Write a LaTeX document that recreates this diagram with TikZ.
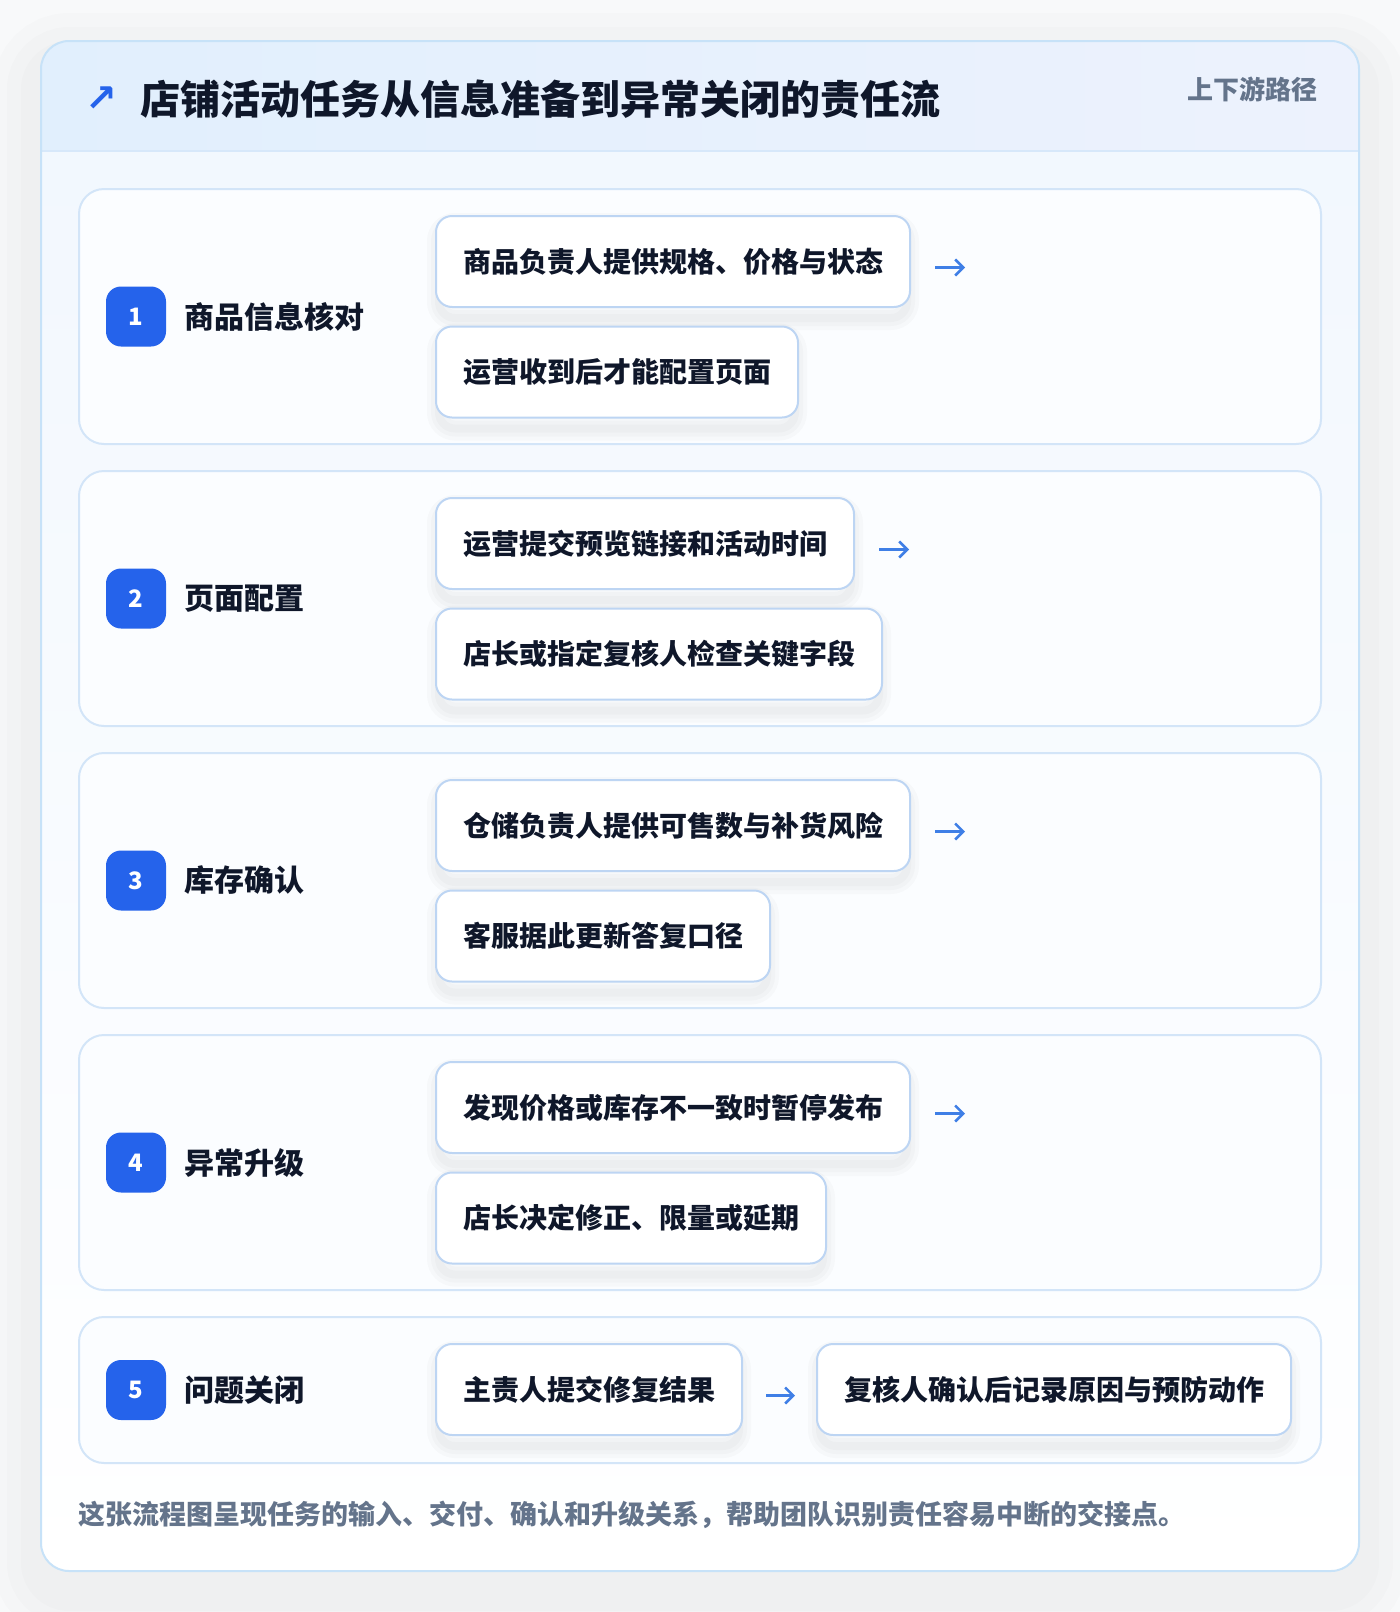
\documentclass[tikz,border=0pt]{standalone}
\usepackage{fontspec}
\setmainfont{Noto Sans CJK SC}
\newfontfamily\symfont{DejaVu Sans}
\usetikzlibrary{positioning,arrows.meta}
\pgfdeclarelayer{back}
\pgfdeclarelayer{mid}
\pgfsetlayers{back,mid,main}

\definecolor{pagebg}{HTML}{F8F9FA}
\definecolor{cardline}{HTML}{C7E2F8}
\definecolor{headl}{HTML}{E1EFFD}
\definecolor{headr}{HTML}{EDF2FD}
\definecolor{headline}{HTML}{D7E8FA}
\definecolor{bodytop}{HTML}{F1F7FE}
\definecolor{rowline}{HTML}{D3E5F8}
\definecolor{rowfill}{HTML}{FBFDFF}
\definecolor{boxline}{HTML}{BDD5F3}
\definecolor{badgeblue}{HTML}{2563EB}
\definecolor{flowblue}{HTML}{3F7FE6}
\definecolor{ink}{HTML}{0F172A}
\definecolor{muted}{HTML}{64748B}

\newcommand\setfs[1]{\fontsize{#1}{#1}\selectfont\bfseries}
% soft shadow under a step box
\newcommand\boxshadow[1]{%
\begin{pgfonlayer}{mid}
\foreach \w in {12,8,4}
  \draw[black, opacity=0.018, line width=\w pt, rounded corners=8pt]
    ([yshift=-5pt,xshift=2pt]#1.north west) rectangle ([yshift=-5pt,xshift=-2pt]#1.south east);
\end{pgfonlayer}}

\begin{document}
\begin{tikzpicture}[x=0.5pt,y=-0.5pt,
  rowcard/.style={draw=rowline, line width=1pt, fill=rowfill, rounded corners=12.5pt},
  badge/.style={fill=badgeblue, rounded corners=7.5pt, minimum size=30pt, inner sep=0pt,
    text=white, font=\setfs{12pt}},
  steplabel/.style={inner sep=0pt, text=ink, font=\setfs{15pt}},
  stepbox/.style={draw=boxline, line width=1pt, fill=white, rounded corners=8pt,
    inner xsep=13.5pt, inner ysep=0pt, minimum height=45.5pt, anchor=west,
    text=ink, font=\setfs{14pt}},
  flow/.style={draw=flowblue, line width=1.3pt, -{Straight Barb[length=4pt,width=8pt]}}]
\useasboundingbox (0,0) rectangle (1400,1612);

\begin{pgfonlayer}{back}
\fill[pagebg] (0,0) rectangle (1400,1612);
% card shadow
\foreach \w in {48,34,20}
  \draw[black, opacity=0.012, line width=\w pt, rounded corners=14pt] (41,61) rectangle (1359,1591);
\shade[top color=bodytop, bottom color=white, rounded corners=14pt] (41,41) rectangle (1359,1571);
\begin{scope}
\clip[rounded corners=14pt] (41,41) rectangle (1359,1571);
\shade[left color=headl, right color=headr] (41,41) rectangle (1359,151);
\end{scope}
\draw[headline, line width=1pt] (41,151) -- (1359,151);
\draw[cardline, line width=1pt, rounded corners=14pt] (41,41) rectangle (1359,1571);

% step rows
\draw[rowcard] (79,189) rectangle (1321,444);
\draw[rowcard] (79,471) rectangle (1321,726);
\draw[rowcard] (79,753) rectangle (1321,1008);
\draw[rowcard] (79,1035) rectangle (1321,1290);
\draw[rowcard] (79,1317) rectangle (1321,1463);
\end{pgfonlayer}

% header
\node[text=badgeblue, inner sep=0pt, font=\symfont\setfs{19pt}] (icon) at (101,99) {↗};
\node[anchor=west, inner sep=0pt, text=ink, font=\setfs{20pt}] (title) at (140,99)
  {店铺活动任务从信息准备到异常关闭的责任流};
\node[anchor=east, inner sep=0pt, text=muted, font=\setfs{13pt}] (route) at (1318,89) {上下游路径};

% row 1
\node[badge] (n1) at (136,316.5) {1};
\node[steplabel, right=9pt of n1] (l1) {商品信息核对};
\node[stepbox] (s11) at (435,261.5) {商品负责人提供规格、价格与状态};
\node[stepbox] (s12) at (435,372) {运营收到后才能配置页面};
\coordinate[right=27pt of s11.east, yshift=-3pt] (t1);
\draw[flow] ([xshift=12pt,yshift=-3pt]s11.east) -- (t1);

% row 2
\node[badge] (n2) at (136,598.5) {2};
\node[steplabel, right=9pt of n2] (l2) {页面配置};
\node[stepbox] (s21) at (435,543.5) {运营提交预览链接和活动时间};
\node[stepbox] (s22) at (435,654) {店长或指定复核人检查关键字段};
\coordinate[right=27pt of s21.east, yshift=-3pt] (t2);
\draw[flow] ([xshift=12pt,yshift=-3pt]s21.east) -- (t2);

% row 3
\node[badge] (n3) at (136,880.5) {3};
\node[steplabel, right=9pt of n3] (l3) {库存确认};
\node[stepbox] (s31) at (435,825.5) {仓储负责人提供可售数与补货风险};
\node[stepbox] (s32) at (435,936) {客服据此更新答复口径};
\coordinate[right=27pt of s31.east, yshift=-3pt] (t3);
\draw[flow] ([xshift=12pt,yshift=-3pt]s31.east) -- (t3);

% row 4
\node[badge] (n4) at (136,1162.5) {4};
\node[steplabel, right=9pt of n4] (l4) {异常升级};
\node[stepbox] (s41) at (435,1107.5) {发现价格或库存不一致时暂停发布};
\node[stepbox] (s42) at (435,1218) {店长决定修正、限量或延期};
\coordinate[right=27pt of s41.east, yshift=-3pt] (t4);
\draw[flow] ([xshift=12pt,yshift=-3pt]s41.east) -- (t4);

% row 5
\node[badge] (n5) at (136,1390) {5};
\node[steplabel, right=9pt of n5] (l5) {问题关闭};
\node[stepbox] (s51) at (435,1389.5) {主责人提交修复结果};
\node[stepbox, right=36.5pt of s51.east] (s52) {复核人确认后记录原因与预防动作};
\draw[flow] ([xshift=11.5pt,yshift=-3pt]s51.east) -- ([xshift=-10.5pt,yshift=-3pt]s52.west);

\boxshadow{s11}\boxshadow{s12}\boxshadow{s21}\boxshadow{s22}
\boxshadow{s31}\boxshadow{s32}\boxshadow{s41}\boxshadow{s42}
\boxshadow{s51}\boxshadow{s52}

% footer note
\node[anchor=west, inner sep=0pt, text=muted, font=\setfs{13.5pt}] (note) at (78,1515)
  {这张流程图呈现任务的输入、交付、确认和升级关系，帮助团队识别责任容易中断的交接点。};
\end{tikzpicture}
\end{document}
